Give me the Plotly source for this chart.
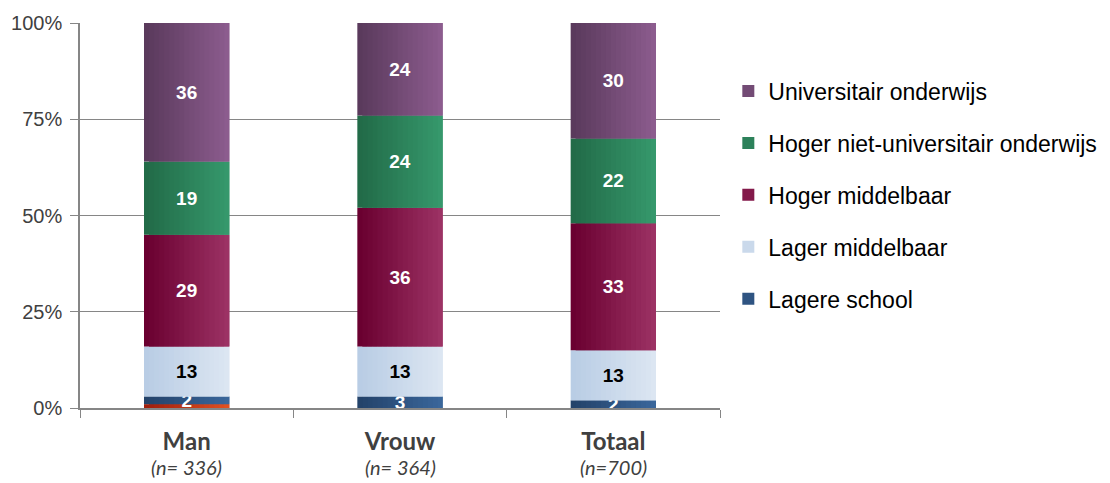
import plotly.graph_objects as go

categories = ["Man", "Vrouw", "Totaal"]
cat_n = ["(n= 336)", "(n= 364)", "(n=700)"]

# series bottom -> top
series_names = ["Overig", "Lagere school", "Lager middelbaar", "Hoger middelbaar",
                "Hoger niet-universitair onderwijs", "Universitair onderwijs"]
overig = [1, 0, 0]
lagere_school = [2, 3, 2]
lager_middelbaar = [13, 13, 13]
hoger_middelbaar = [29, 36, 33]
hoger_niet_univ = [19, 24, 22]
universitair = [36, 24, 30]
series_values = [overig, lagere_school, lager_middelbaar, hoger_middelbaar,
                 hoger_niet_univ, universitair]

# gradient colours (left, right)
grad = [
    ((0xa0, 0x1e, 0x0c), (0xe0, 0x50, 0x20)),
    ((0x24, 0x43, 0x6a), (0x3a, 0x66, 0x9a)),
    ((0xb9, 0xcd, 0xe5), (0xdc, 0xe6, 0xf2)),
    ((0x6a, 0x00, 0x30), (0x9c, 0x32, 0x64)),
    ((0x22, 0x6b, 0x48), (0x36, 0x98, 0x6c)),
    ((0x5a, 0x3a, 0x5c), (0x8c, 0x5c, 0x8e)),
]
text_colors = ["white", "white", "black", "white", "white", "white"]
show_text = [False, True, True, True, True, True]
legend_rank = [None, 5, 4, 3, 2, 1]

BAR_W = 0.4
N = 17

fig = go.Figure()

bases = [0, 0, 0]
for si, (name, vals) in enumerate(zip(series_names, series_values)):
    (r0, g0, b0), (r1, g1, b1) = grad[si]
    sw = BAR_W / N
    for k in range(N):
        t = k / (N - 1)
        col = "rgb(%d,%d,%d)" % (r0 + (r1 - r0) * t, g0 + (g1 - g0) * t, b0 + (b1 - b0) * t)
        is_leg = (legend_rank[si] is not None) and k == N // 2
        fig.add_trace(go.Bar(
            x=categories, y=vals, base=list(bases),
            width=[sw * 2] * 3 if k < N - 1 else [sw] * 3,
            offset=-BAR_W / 2 + k * sw,
            marker=dict(color=col, line=dict(width=0)),
            name=name, showlegend=is_leg,
            legendgroup=name,
            legendrank=legend_rank[si] if legend_rank[si] else 1000,
            hoverinfo="skip",
        ))
    # text trace
    fig.add_trace(go.Bar(
        x=categories, y=vals, base=list(bases), width=BAR_W,
        marker=dict(color="rgba(0,0,0,0)", line=dict(width=0)),
        text=[str(v) if (show_text[si] and v > 0) else "" for v in vals],
        textposition="inside", insidetextanchor="middle", textangle=0,
        constraintext="none",
        textfont=dict(family="Liberation Sans", size=19, color=text_colors[si], weight="bold"),
        showlegend=False, hoverinfo="skip",
    ))
    bases = [b + v for b, v in zip(bases, vals)]

ticktext = ["<b>%s</b>" % c for c in categories]

for c, n in zip(categories, cat_n):
    fig.add_annotation(
        x=c, xref="x", y=-0.1525, yref="paper", yanchor="middle",
        text="<i>%s</i>" % n, showarrow=False,
        font=dict(family="Lato", size=20, color="#404040"),
    )

fig.update_layout(
    barmode="overlay",
    width=1102, height=475,
    margin=dict(l=72, r=390, t=15, b=75, autoexpand=False),
    plot_bgcolor="white", paper_bgcolor="white",
    font=dict(family="Liberation Sans", color="#404040"),
    legend=dict(
        x=1.013, y=0.553, xanchor="left", yanchor="middle",
        font=dict(family="Liberation Sans", size=23, color="black"),
        tracegroupgap=19, itemwidth=30,
        bgcolor="rgba(0,0,0,0)",
    ),
    xaxis=dict(
        tickmode="array", tickvals=categories, ticktext=ticktext,
        tickson="boundaries", ticks="outside", ticklen=8, tickcolor="#868686",
        showline=True, linecolor="#868686", linewidth=1.5,
        tickfont=dict(family="Lato", size=24, color="#404040"),
        ticklabelstandoff=11,
        showgrid=False, automargin=False,
    ),
    yaxis=dict(
        range=[0, 100], tickvals=[0, 25, 50, 75, 100],
        ticktext=["0%", "25%", "50%", "75%", "100%"],
        ticks="outside", ticklen=8, tickcolor="#868686",
        showline=True, linecolor="#868686", linewidth=1.5,
        showgrid=True, gridcolor="#868686", gridwidth=1.2,
        tickfont=dict(family="Liberation Sans", size=20, color="#404040"),
        ticklabelstandoff=4,
        zeroline=False, automargin=False,
    ),
)

fig.write_html("out.html")
